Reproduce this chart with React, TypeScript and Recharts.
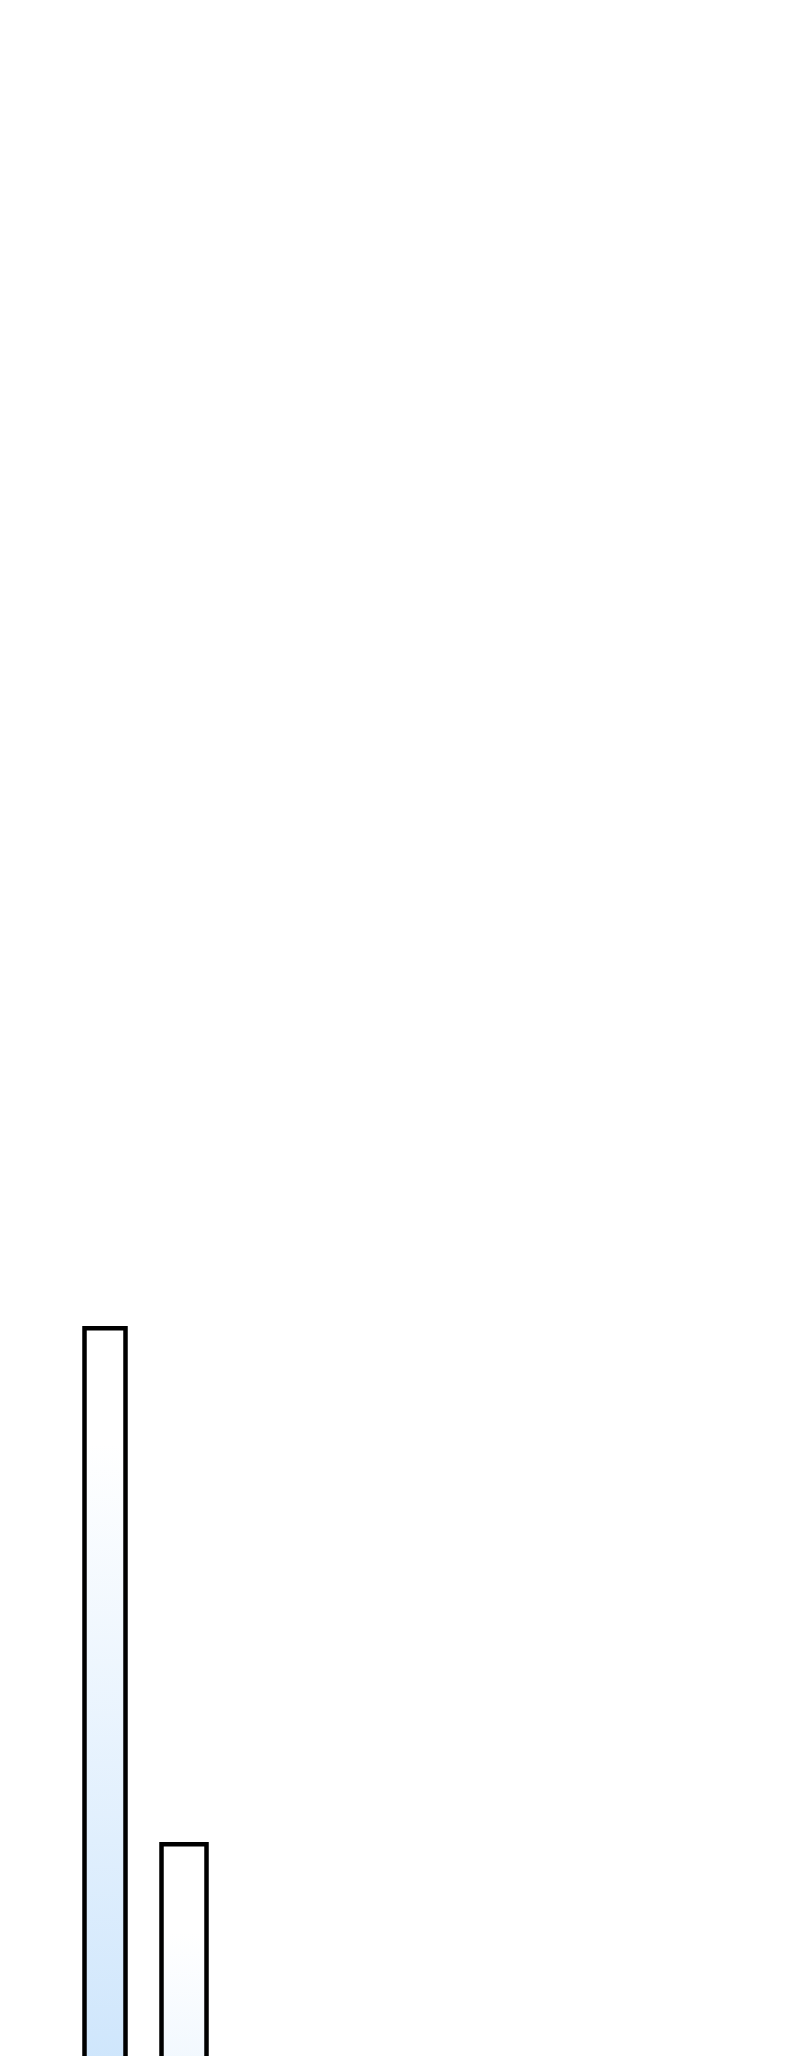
import React from "react";
import { BarChart, Bar, XAxis, YAxis } from "recharts";

const categories: string[] = ["A"];
const seriesA: number[] = [62.2];
const seriesB: number[] = [47.2];
const yDomain: [number, number] = [0, 100];

const data = categories.map((c, i) => ({ name: c, a: seriesA[i], b: seriesB[i] }));

export default function App() {
  return (
    <div style={{ width: 784, height: 3460, background: "#ffffff" }}>
      <BarChart
        width={784}
        height={3460}
        data={data}
        margin={{ top: 20, right: 546.5, bottom: 0, left: 37.5 }}
        barGap={36}
      >
        <defs>
          <linearGradient id="barGrad" x1="0" y1="0" x2="0" y2="1">
            <stop offset="0" stopColor="#ffffff" />
            <stop offset="0.054" stopColor="#ffffff" />
            <stop offset="1" stopColor="#61adf5" />
          </linearGradient>
        </defs>
        <XAxis dataKey="name" hide />
        <YAxis domain={yDomain} hide />
        <Bar
          dataKey="a"
          barSize={41}
          fill="url(#barGrad)"
          stroke="#000000"
          strokeWidth={4.5}
          isAnimationActive={false}
        />
        <Bar
          dataKey="b"
          barSize={45}
          fill="url(#barGrad)"
          stroke="#000000"
          strokeWidth={4.5}
          isAnimationActive={false}
        />
      </BarChart>
    </div>
  );
}
